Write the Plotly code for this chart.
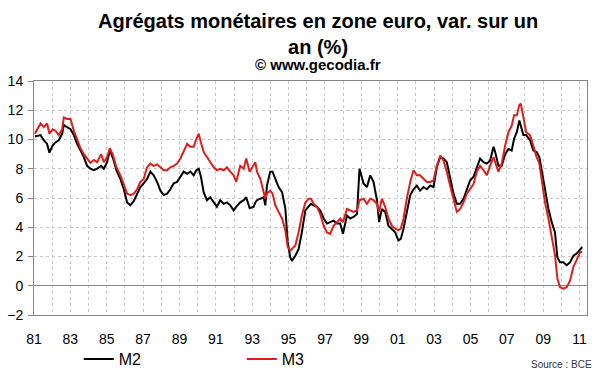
import plotly.graph_objects as go

# Decimal years of the readings
dates = [
    1981.05, 1981.36, 1981.54, 1981.72, 1981.85, 1982.03, 1982.18, 1982.36, 1982.55, 1982.64,
    1982.82, 1983.01, 1983.19, 1983.37, 1983.56, 1983.74, 1983.92, 1984.10, 1984.29, 1984.47,
    1984.69, 1984.84, 1985.02, 1985.17, 1985.35, 1985.53, 1985.75, 1985.94, 1986.12, 1986.30,
    1986.49, 1986.67, 1986.85, 1987.03, 1987.22, 1987.40, 1987.58, 1987.77, 1987.95, 1988.13,
    1988.32, 1988.50, 1988.68, 1988.87, 1989.05, 1989.23, 1989.42, 1989.60, 1989.78, 1989.93,
    1990.06, 1990.18, 1990.33, 1990.51, 1990.69, 1990.88, 1991.06, 1991.24, 1991.43, 1991.61,
    1991.79, 1991.98, 1992.12, 1992.34, 1992.53, 1992.67, 1992.86, 1993.08, 1993.17, 1993.26,
    1993.45, 1993.63, 1993.72, 1993.81, 1993.99, 1994.12, 1994.27, 1994.45, 1994.64, 1994.82,
    1994.95, 1995.09, 1995.18, 1995.37, 1995.55, 1995.73, 1995.92, 1996.10, 1996.23, 1996.38,
    1996.56, 1996.74, 1996.93, 1997.11, 1997.29, 1997.47, 1997.66, 1997.84, 1997.99, 1998.21,
    1998.39, 1998.57, 1998.76, 1998.90, 1999.12, 1999.31, 1999.49, 1999.67, 1999.86, 1999.98,
    2000.13, 2000.31, 2000.49, 2000.68, 2000.86, 2001.04, 2001.17, 2001.32, 2001.50, 2001.69,
    2001.87, 2002.05, 2002.23, 2002.42, 2002.60, 2002.79, 2002.97, 2003.15, 2003.34, 2003.52,
    2003.70, 2003.88, 2004.07, 2004.25, 2004.43, 2004.62, 2004.80, 2004.98, 2005.17, 2005.35,
    2005.53, 2005.72, 2005.90, 2006.08, 2006.27, 2006.36, 2006.54, 2006.72, 2006.91, 2007.09,
    2007.27, 2007.40, 2007.55, 2007.69, 2007.77, 2007.91, 2008.06, 2008.28, 2008.46, 2008.64,
    2008.79, 2008.92, 2009.10, 2009.29, 2009.47, 2009.65, 2009.78, 2009.93, 2010.11, 2010.29,
    2010.48, 2010.66, 2010.84, 2011.03, 2011.15,
]

m2 = [
    10.2, 10.3, 9.95, 9.7, 9.1, 9.6, 9.8, 9.95, 10.4, 11.0,
    10.85, 10.7, 10.3, 9.7, 9.25, 8.8, 8.2, 8.0, 7.9, 8.0,
    8.2, 8.0, 8.45, 9.25, 8.7, 7.9, 7.3, 6.6, 5.7, 5.5,
    5.8, 6.3, 6.75, 7.0, 7.3, 7.8, 7.55, 7.1, 6.5, 6.2,
    6.3, 6.6, 7.0, 7.1, 7.45, 7.8, 7.65, 7.8, 7.55, 7.9,
    8.0, 7.45, 6.4, 5.85, 6.05, 5.7, 5.4, 5.85, 5.6, 5.7,
    5.5, 5.15, 5.4, 5.7, 5.85, 6.05, 5.3, 5.4, 5.7, 5.85,
    5.95, 6.05, 5.5, 6.85, 7.8, 7.8, 7.3, 6.75, 6.4, 5.3,
    3.0, 1.95, 1.7, 2.05, 2.5, 3.65, 5.15, 5.4, 5.6, 5.5,
    5.4, 5.15, 4.6, 4.25, 4.35, 4.45, 4.25, 4.25, 3.55, 4.8,
    4.6, 4.7, 4.9, 8.0, 7.0, 6.75, 7.55, 7.1, 5.85, 4.35,
    5.25, 5.05, 4.1, 3.9, 3.65, 3.1, 3.2, 3.9, 5.05, 6.2,
    6.6, 6.85, 6.5, 6.75, 6.6, 6.85, 6.75, 8.1, 8.8, 8.7,
    8.45, 7.3, 6.3, 5.6, 5.6, 5.95, 6.6, 7.2, 7.45, 8.1,
    8.7, 8.45, 8.35, 8.55, 9.5, 9.15, 8.2, 8.2, 9.0, 9.35,
    9.25, 10.05, 10.5, 11.3, 10.85, 10.3, 10.3, 9.95, 9.25, 9.15,
    8.8, 7.8, 6.4, 5.25, 4.35, 3.65, 1.95, 1.6, 1.6, 1.4,
    1.6, 2.05, 2.2, 2.5, 2.65,
]

m3 = [
    10.4, 11.1, 10.85, 11.1, 10.4, 10.7, 10.6, 10.3, 10.7, 11.5,
    11.4, 11.4, 10.6, 9.95, 9.4, 9.0, 8.7, 8.4, 8.6, 8.45,
    9.0, 8.45, 8.8, 9.4, 8.9, 8.1, 7.55, 6.9, 6.3, 6.2,
    6.3, 6.6, 7.1, 7.3, 8.1, 8.35, 8.2, 8.3, 8.1, 7.9,
    7.9, 8.1, 8.2, 8.35, 8.7, 9.25, 9.7, 9.5, 9.5, 10.05,
    10.4, 9.8, 9.15, 8.8, 8.45, 8.1, 7.9, 8.0, 7.9, 8.1,
    7.8, 7.55, 7.1, 8.2, 8.0, 8.7, 7.8, 8.2, 8.45, 7.8,
    7.3, 6.4, 5.95, 6.3, 6.5, 6.3, 5.5, 5.05, 4.6, 3.8,
    2.65, 2.4, 2.5, 2.75, 3.65, 4.8, 5.7, 5.95, 5.95, 5.6,
    5.4, 4.9, 4.1, 3.65, 3.55, 4.1, 4.35, 4.6, 4.35, 5.25,
    5.15, 5.05, 5.15, 5.85, 5.95, 5.6, 5.95, 5.85, 5.6, 5.05,
    5.95, 5.4, 4.6, 4.1, 3.9, 3.8, 3.9, 4.6, 5.95, 7.1,
    7.9, 7.55, 7.55, 7.3, 7.1, 7.1, 7.2, 8.2, 8.9, 8.55,
    7.8, 6.85, 5.95, 5.05, 5.25, 5.7, 6.3, 6.65, 6.95, 7.8,
    8.2, 7.9, 7.55, 8.2, 8.8, 8.45, 7.8, 8.35, 9.6, 10.5,
    10.95, 11.65, 11.65, 12.35, 12.45, 11.55, 10.5, 10.3, 9.5, 8.8,
    8.35, 7.1, 5.7, 4.6, 3.45, 2.1, 0.5, -0.1, -0.2, -0.1,
    0.35, 1.3, 1.75, 2.3, 2.3,
]

year_ticks = list(range(1981, 2012))
year_labels = [str(y)[2:] if (y - 1981) % 2 == 0 else "" for y in year_ticks]
major_ticks = list(range(1981, 2012, 2))
y_ticks = list(range(-2, 15, 2))

FONT = "Arial, Liberation Sans, sans-serif"
GRID = "#c8c8c8"
AXIS = "#868686"

fig = go.Figure()
fig.add_trace(go.Scatter(x=dates, y=m2, mode="lines", name="M2",
                         line=dict(color="#000000", width=2)))
fig.add_trace(go.Scatter(x=dates, y=m3, mode="lines", name="M3",
                         line=dict(color="#dc1e1e", width=2)))

xr = [1981, 2011.41]
# page body has an 8px margin, so the figure is sized to fit inside the window
fig.update_layout(
    width=592, height=364,
    margin=dict(l=26, r=13, t=73, b=57, autoexpand=False),
    paper_bgcolor="white", plot_bgcolor="white",
    font=dict(family=FONT, color="black", size=14),
    showlegend=True,
    legend=dict(orientation="h", x=0.081, xanchor="left", y=-0.188, yanchor="middle",
                font=dict(size=16), entrywidth=118, entrywidthmode="pixels",
                bgcolor="rgba(0,0,0,0)", tracegroupgap=0),
    xaxis=dict(range=xr, tickmode="array", tickvals=year_ticks, ticktext=year_labels,
               showgrid=True, gridcolor=GRID, griddash="dot", gridwidth=1,
               showline=True, linecolor=AXIS, linewidth=1, mirror=True,
               ticks="", ticklabelstandoff=11, zeroline=False, automargin=False,
               tickfont=dict(size=14)),
    xaxis2=dict(range=xr, overlaying="x", anchor="free", position=0.125,
                tickmode="array", tickvals=major_ticks, showticklabels=False,
                ticks="outside", ticklen=5, tickcolor=AXIS, tickwidth=1,
                showgrid=False, showline=False, zeroline=False, automargin=False),
    yaxis=dict(range=[-2, 14], tickmode="array", tickvals=y_ticks,
               showgrid=True, gridcolor=GRID, griddash="dot", gridwidth=1,
               zeroline=True, zerolinecolor=AXIS, zerolinewidth=1,
               showline=True, linecolor=AXIS, linewidth=1, mirror=True,
               ticks="outside", ticklen=5, tickcolor=AXIS, automargin=False,
               tickfont=dict(size=14), ticklabelstandoff=2),
    annotations=[
        dict(text="<b>Agrégats monétaires en zone euro, var. sur un<br>an (%)</b>",
             xref="paper", yref="paper", x=0.5127, y=1.312, xanchor="center", yanchor="top",
             showarrow=False, font=dict(size=20, family=FONT, color="black")),
        dict(text="<b>© www.gecodia.fr</b>",
             xref="paper", yref="paper", x=0.5127, y=1.072, xanchor="center", yanchor="middle",
             showarrow=False, font=dict(size=15, family=FONT, color="black")),
        dict(text="Source : BCE",
             xref="paper", yref="paper", x=1.0127, y=-0.21, xanchor="right", yanchor="middle",
             showarrow=False, font=dict(size=10, family=FONT, color="#333333")),
    ],
)

fig.write_html("out.html")
